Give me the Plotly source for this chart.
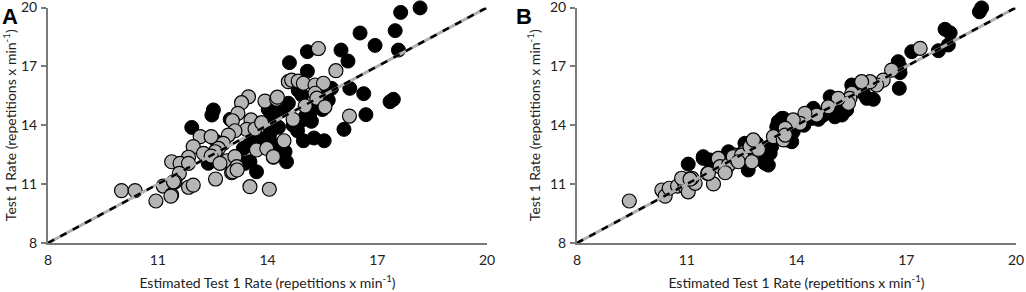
import plotly.graph_objects as go
from plotly.subplots import make_subplots

# Panel A (estimated vs measured)
a_black_x = [18.17,17.64,17.49,16.53,16.94,17.58,16.01,16.20,15.09,14.60,15.09,16.25,16.63,17.35,17.44,16.69,16.09,14.98,15.27,15.55,14.82,14.48,14.43,14.52,13.70,14.84,14.94,14.43,14.57,15.16,15.03,15.75,15.66,14.16,14.07,12.52,12.48,11.93,12.98,14.02,14.12,14.16,13.61,13.34,13.48,12.38,13.34,13.52,12.61,13.39,14.70,14.90,15.30,15.50,14.30,13.90,14.25,13.80,15.20,15.60,14.00]
a_black_y = [19.98,19.75,18.82,18.70,18.07,17.83,17.83,17.27,17.75,17.19,16.75,15.88,15.61,15.20,15.32,14.54,13.79,13.21,13.35,13.21,13.72,12.65,12.57,12.14,11.63,15.78,15.54,14.78,15.12,14.61,14.43,15.88,15.28,14.78,13.59,14.78,14.52,13.89,14.30,14.81,14.43,14.61,13.42,12.82,12.99,12.06,12.06,12.14,13.16,12.06,14.00,14.20,15.00,14.80,13.90,13.30,13.00,13.00,14.20,15.60,14.10]
a_gray_x = [13.48,13.29,13.93,14.25,13.19,13.04,13.55,13.43,13.66,13.84,13.11,12.16,12.46,12.93,12.79,11.97,12.66,12.57,12.25,11.84,12.46,12.89,13.11,13.70,13.98,14.16,13.16,13.02,12.70,11.38,11.61,11.84,11.59,11.47,11.15,11.84,11.97,12.58,13.52,14.05,10.01,10.38,10.95,11.38,11.43,15.39,15.87,14.57,14.66,14.84,14.98,15.30,15.53,15.30,15.35,14.27,15.03,15.57,14.70,16.24,14.45,14.16,13.05,13.17,11.36]
a_gray_y = [15.45,15.15,15.23,15.32,14.61,14.23,14.27,13.79,13.81,14.13,13.72,13.42,13.42,13.50,13.08,12.91,12.82,12.65,12.57,12.37,12.43,12.19,12.40,12.74,12.82,12.37,11.89,11.58,12.06,12.14,12.06,12.06,11.55,11.12,10.90,10.84,10.95,11.26,10.87,10.74,10.67,10.67,10.14,10.45,11.12,17.91,16.78,16.22,16.30,16.25,16.14,16.05,16.14,15.63,15.38,15.43,14.98,14.94,14.30,14.47,13.21,12.40,11.63,11.72,10.39]

# Panel B
b_black_x = [19.06,19.00,18.06,18.20,18.15,17.88,17.15,16.78,16.83,16.83,16.81,16.10,15.92,15.83,15.60,15.51,15.37,15.24,15.05,14.92,15.01,14.73,14.46,14.42,13.91,13.73,13.87,13.64,13.50,13.60,13.46,12.59,12.91,13.14,13.28,13.32,12.68,11.45,11.64,12.14,12.18,11.04,11.45,11.68,13.14,13.23,14.20,14.60,15.20]
b_black_y = [19.98,19.78,18.89,18.71,18.09,17.80,17.75,17.24,16.98,16.68,15.88,15.32,15.37,15.63,15.88,16.05,14.78,14.52,14.43,15.45,15.28,14.52,14.86,14.35,13.67,13.25,13.16,14.35,14.18,14.35,13.92,13.08,13.08,12.23,12.57,12.91,11.72,12.40,12.23,12.65,12.23,12.02,12.31,12.02,12.06,11.97,14.00,14.30,15.00]
b_gray_x = [9.43,10.32,10.41,10.52,10.75,10.91,10.95,11.04,11.23,11.14,11.73,11.57,11.88,12.05,12.32,12.55,12.76,11.86,11.91,12.14,11.59,10.86,11.09,12.27,12.50,12.41,12.73,12.78,12.96,12.82,13.37,13.69,13.64,17.38,16.60,16.37,16.19,16.01,15.78,15.51,15.46,15.42,15.14,14.87,14.55,14.23,14.10,13.91,13.69,13.69,12.05]
b_gray_y = [10.14,10.70,10.39,10.79,10.90,11.21,10.87,10.61,11.04,11.30,11.01,11.55,12.31,11.63,12.48,12.60,12.14,12.31,11.89,11.97,11.55,11.30,11.25,12.40,12.48,12.14,12.91,12.14,12.77,13.25,13.42,13.67,13.25,17.92,16.81,16.30,16.05,16.22,16.22,15.63,15.37,15.12,15.37,14.94,14.52,14.61,14.10,14.27,13.84,13.50,11.58]

ticks = [8, 11, 14, 17, 20]
identity = [8, 20]
panel_labels = ["A", "B"]
x_title = "Estimated Test 1 Rate (repetitions x min<sup>-1</sup>)"
y_title = "Test 1 Rate (repetitions x min<sup>-1</sup>)"

W, H = 1026, 292
fig = make_subplots(rows=1, cols=2)

def add_panel(col, bx, by, gx, gy):
    fig.add_trace(go.Scatter(x=bx, y=by, mode="markers", cliponaxis=False,
                             marker=dict(size=14, color="black", line=dict(color="black", width=1)),
                             showlegend=False, hoverinfo="skip"), row=1, col=col)
    fig.add_trace(go.Scatter(x=gx, y=gy, mode="markers", cliponaxis=False,
                             marker=dict(size=14, color="#b5b5b5", line=dict(color="black", width=1.2)),
                             showlegend=False, hoverinfo="skip"), row=1, col=col)
    fig.add_trace(go.Scatter(x=identity, y=identity, mode="lines",
                             line=dict(color="#b0b0b0", width=3), showlegend=False, hoverinfo="skip"),
                  row=1, col=col)
    fig.add_trace(go.Scatter(x=identity, y=identity, mode="lines",
                             line=dict(color="black", width=2.5, dash="7px,7px"), showlegend=False, hoverinfo="skip"),
                  row=1, col=col)

add_panel(1, a_black_x, a_black_y, a_gray_x, a_gray_y)
add_panel(2, b_black_x, b_black_y, b_gray_x, b_gray_y)

font = "Lato, 'Open Sans', sans-serif"
ydom = [1 - 243 / H, 1 - 7.5 / H]
xdoms = [[48 / W, 487 / W], [577 / W, 1016 / W]]
for i in range(2):
    fig.update_xaxes(row=1, col=i + 1, domain=xdoms[i], range=[8, 20], tickvals=ticks,
                     showgrid=False, zeroline=False, showline=True, linecolor="#7a7a7a", linewidth=2,
                     ticks="", ticklabelstandoff=3, ticklabeloverflow="allow", automargin=False,
                     tickfont=dict(size=14, color="#222", family=font),
                     title=dict(text=x_title, font=dict(size=14, color="#222", family=font), standoff=11))
    fig.update_yaxes(row=1, col=i + 1, domain=ydom, range=[8, 20], tickvals=ticks,
                     showgrid=False, zeroline=False, showline=True, linecolor="#7a7a7a", linewidth=2,
                     ticks="outside", ticklen=5, tickcolor="#7a7a7a", tickwidth=1.5,
                     ticklabelstandoff=1, ticklabeloverflow="allow", automargin=False,
                     tickfont=dict(size=14, color="#222", family=font),
                     title=dict(text=y_title, font=dict(size=14, color="#222", family=font), standoff=6))

for lab, xp in zip(panel_labels, [0, 514]):
    fig.add_annotation(text="<b>%s</b>" % lab, x=xp / W, y=1 - 2 / H, xref="paper", yref="paper",
                       xanchor="left", yanchor="top", showarrow=False,
                       font=dict(size=22, color="black", family="'Liberation Sans', Arial, sans-serif"))

fig.update_layout(width=W, height=H, autosize=False, margin=dict(l=0, r=0, t=0, b=0),
                  plot_bgcolor="white", paper_bgcolor="white")

fig.write_html("out.html", config={"displayModeBar": False},
               post_script="document.body.style.margin='0';")
